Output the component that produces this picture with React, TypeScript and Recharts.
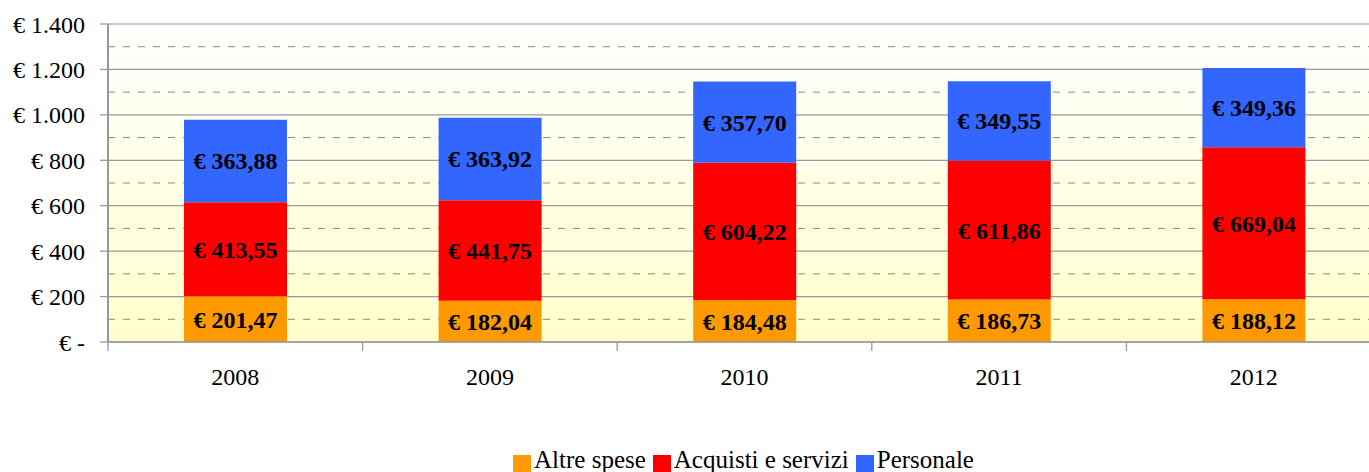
import React from 'react';
import { BarChart, Bar, XAxis, YAxis, CartesianGrid, LabelList } from 'recharts';

const years = ['2008', '2009', '2010', '2011', '2012'];
const altreSpese = [201.47, 182.04, 184.48, 186.73, 188.12];
const acquistiServizi = [413.55, 441.75, 604.22, 611.86, 669.04];
const personale = [363.88, 363.92, 357.7, 349.55, 349.36];

const yTicks = [0, 200, 400, 600, 800, 1000, 1200, 1400];
const minorLines = [100, 300, 500, 700, 900, 1100, 1300];

const series = [
  { key: 'altre', name: 'Altre spese', color: '#FF9900' },
  { key: 'acquisti', name: 'Acquisti e servizi', color: '#FF0000' },
  { key: 'personale', name: 'Personale', color: '#3366FF' },
];

const data = years.map((year, i) => ({
  year,
  altre: altreSpese[i],
  acquisti: acquistiServizi[i],
  personale: personale[i],
}));

const FONT = '"Liberation Serif", "Times New Roman", serif';

const euroTick = (v: number) => {
  if (v === 0) return '€ -';
  return '€ ' + String(v).replace(/\B(?=(\d{3})+(?!\d))/g, '.');
};

const euroLabel = (v: any) => '€ ' + Number(v).toFixed(2).replace('.', ',');

const YearTick = (props: any) => {
  const { x, y, payload } = props;
  const off = payload && payload.offset ? payload.offset : 0;
  return (
    <g>
      <line x1={x - off} x2={x - off} y1={y} y2={y + 9} stroke="#999" strokeWidth={1.3} />
      <text x={x} y={y + 43} textAnchor="middle" fontSize={24} fontFamily={FONT} fill="#000">
        {payload.value}
      </text>
    </g>
  );
};

export default function App() {
  return (
    <div style={{ position: 'absolute', left: 0, top: 0, width: 1369, height: 472, overflow: 'hidden', background: '#fff', fontFamily: FONT }}>
      <BarChart
        width={1381}
        height={472}
        data={data}
        margin={{ top: 24, right: 0, left: 0, bottom: 70 }}
        barSize={103}
      >
        <defs>
          <linearGradient id="bgGrad" x1="0" y1="0" x2="0" y2="1">
            <stop offset="0%" stopColor="#FFFFFF" />
            <stop offset="100%" stopColor="#FFFFCC" />
          </linearGradient>
        </defs>
        <CartesianGrid
          vertical={false}
          fill="url(#bgGrad)"
          horizontalValues={minorLines}
          stroke="#888"
          strokeDasharray="7 8"
        />
        <CartesianGrid vertical={false} horizontalValues={yTicks} stroke="#999" strokeWidth={1.2} />
        <XAxis
          dataKey="year"
          height={60}
          tickLine={false}
          tickSize={0}
          tickMargin={0}
          axisLine={{ stroke: '#999', strokeWidth: 1.5 }}
          tick={<YearTick />}
          interval={0}
        />
        <YAxis
          width={108}
          domain={[0, 1400]}
          ticks={yTicks}
          interval={0}
          tickFormatter={euroTick}
          tickSize={8}
          tickMargin={15}
          axisLine={{ stroke: '#999', strokeWidth: 2 }}
          tickLine={{ stroke: '#999', strokeWidth: 1.3 }}
          tick={{ fontSize: 24, fontFamily: FONT, fill: '#000' }}
        />
        {series.map((s) => (
          <Bar key={s.key} dataKey={s.key} name={s.name} stackId="a" fill={s.color} isAnimationActive={false}>
            <LabelList
              dataKey={s.key}
              position="center"
              formatter={euroLabel}
              fill="#000"
              fontSize={24}
              fontWeight="bold"
              fontFamily={FONT}
            />
          </Bar>
        ))}
      </BarChart>
      <div
        style={{
          position: 'absolute',
          top: 446,
          left: 0,
          width: 1494,
          display: 'flex',
          justifyContent: 'center',
          alignItems: 'flex-end',
          fontFamily: FONT,
          fontSize: 25,
          color: '#000',
          lineHeight: '25px',
          height: 26,
        }}
      >
        {series.map((s) => (
          <div key={s.key} style={{ display: 'flex', alignItems: 'flex-end', marginRight: 7 }}>
            <span style={{ display: 'inline-block', width: 18, height: 17, background: s.color, marginRight: 3, marginBottom: 0 }} />
            <span style={{ fontFamily: FONT }}>{s.name}</span>
          </div>
        ))}
      </div>
    </div>
  );
}
